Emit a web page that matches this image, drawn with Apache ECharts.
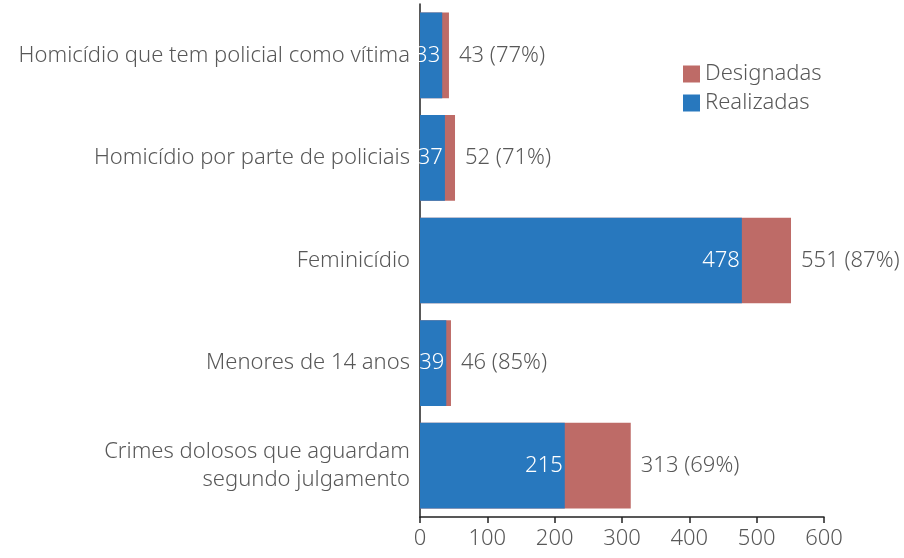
<!DOCTYPE html>
<html>
<head>
<meta charset="utf-8">
<script src="https://cdn.jsdelivr.net/npm/echarts@6/dist/echarts.min.js"></script>
<style>
  html, body { margin: 0; padding: 0; background: #fff; }
  #main { width: 904px; height: 558px; }
</style>
</head>
<body>
<div id="main"></div>
<script>
// categories from top to bottom
var categories = [
  'Homicídio que tem policial como vítima',
  'Homicídio por parte de policiais',
  'Feminicídio',
  'Menores de 14 anos',
  'Crimes dolosos que aguardam\nsegundo julgamento'
];
var designadas = [43, 52, 551, 46, 313];
var realizadas = [33, 37, 478, 39, 215];
var xTicks = [0, 100, 200, 300, 400, 500, 600];

var font = '"Noto Sans", sans-serif';
var textColor = '#585858';
var fs = 22;

var myChart = echarts.init(document.getElementById('main'));

var option = {
  animation: false,
  textStyle: { fontFamily: font },
  legend: {
    orient: 'vertical',
    left: 678,
    top: 58,
    itemWidth: 17,
    itemHeight: 17,
    itemGap: 7,
    icon: 'rect',
    data: ['Designadas', 'Realizadas'],
    textStyle: { fontSize: fs, fontWeight: 300, color: textColor, fontFamily: font }
  },
  grid: { left: 420, right: 80, top: 4, bottom: 41 },
  xAxis: {
    type: 'value',
    min: xTicks[0],
    max: xTicks[xTicks.length - 1],
    interval: 100,
    splitLine: { show: false },
    axisLine: { show: true, lineStyle: { color: '#222', width: 1.5 } },
    axisTick: { show: true, length: 6, lineStyle: { color: '#222', width: 1.5 } },
    axisLabel: { fontSize: fs, fontWeight: 300, color: textColor, fontFamily: font, margin: 11 }
  },
  yAxis: {
    type: 'category',
    inverse: true,
    data: categories,
    axisLine: { show: true, lineStyle: { color: '#222', width: 1.5 } },
    axisTick: { show: false },
    axisLabel: { fontSize: fs, fontWeight: 300, color: textColor, fontFamily: font, margin: 10, lineHeight: 28, align: 'right', padding: [3, 0, 0, 0] }
  },
  series: [
    {
      name: 'Designadas',
      type: 'bar',
      data: designadas,
      barCategoryGap: '16.5%',
      barGap: '-100%',
      itemStyle: { color: '#BE6B67' },
      label: {
        show: true,
        position: 'right',
        distance: 10,
        fontSize: fs,
        fontWeight: 300,
        color: textColor,
        fontFamily: font,
        formatter: function (p) {
          var pct = Math.round(realizadas[p.dataIndex] / p.value * 100);
          return p.value + ' (' + pct + '%)';
        }
      }
    },
    {
      name: 'Realizadas',
      type: 'bar',
      data: realizadas,
      barCategoryGap: '16.5%',
      barGap: '-100%',
      itemStyle: { color: '#2878BE' },
      label: {
        show: true,
        position: 'insideRight',
        distance: 2,
        fontSize: fs,
        fontWeight: 300,
        color: '#fff',
        fontFamily: font
      }
    }
  ]
};

myChart.setOption(option);
</script>
</body>
</html>
